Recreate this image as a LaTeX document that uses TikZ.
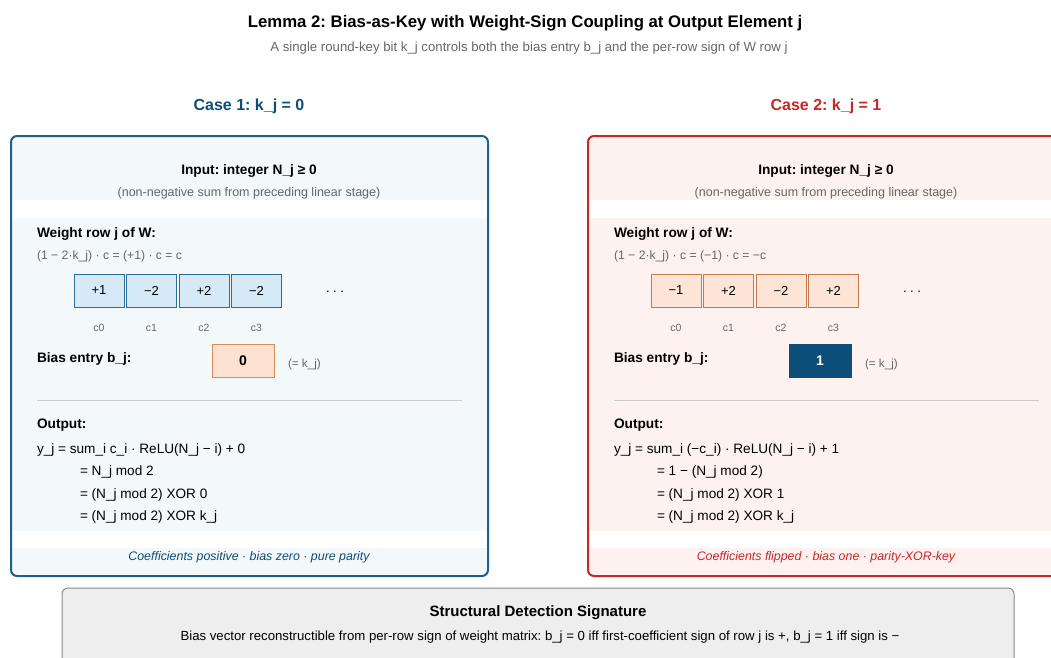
\documentclass[tikz,border=0pt]{standalone}
\usepackage{fontspec}
\setmainfont{Liberation Sans}
\frenchspacing
\definecolor{bluedk}{HTML}{0D4D7A}
\definecolor{lborder}{HTML}{1F5F8B}
\definecolor{lfill}{HTML}{F3F8FB}
\definecolor{lcell}{HTML}{D6E9F6}
\definecolor{lcellb}{HTML}{2E6B96}
\definecolor{redk}{HTML}{C62828}
\definecolor{rfill}{HTML}{FDF2F0}
\definecolor{rcell}{HTML}{FCE4D6}
\definecolor{rcellb}{HTML}{C8784A}
\definecolor{biasf}{HTML}{FDE2D3}
\definecolor{biasb}{HTML}{DE8A55}
\definecolor{greyt}{HTML}{666666}
\definecolor{sepl}{HTML}{CCCCCC}
\definecolor{botf}{HTML}{EEEEEE}
\definecolor{botb}{HTML}{8A8A8A}
\tikzset{
  txt/.style={inner sep=0, outer sep=0},
  titletext/.style={txt, font=\fontsize{16.75}{19}\selectfont\bfseries, anchor=base},
  subtitletext/.style={txt, font=\fontsize{13.2}{15}\selectfont, text=greyt, anchor=base},
  subtext/.style={txt, font=\fontsize{12.5}{14}\selectfont, text=greyt, anchor=base},
  casetext/.style={txt, font=\fontsize{16}{18}\selectfont\bfseries, anchor=base},
  hdr/.style={txt, font=\fontsize{13.7}{15}\selectfont\bfseries, anchor=base},
  hdrl/.style={txt, font=\fontsize{13.7}{15}\selectfont\bfseries, anchor=base west},
  formula/.style={txt, font=\fontsize{12.2}{14}\selectfont, text=greyt, anchor=base west},
  keynote/.style={txt, font=\fontsize{11.7}{14}\selectfont, text=greyt, anchor=base west},
  eqline/.style={txt, font=\fontsize{13.6}{15}\selectfont, anchor=base west},
  cell/.style={draw=#1, line width=1, minimum width=50, minimum height=33, inner sep=0, font=\fontsize{13}{15}\selectfont},
  biasbox/.style={line width=1, minimum width=62, minimum height=33, inner sep=0, font=\fontsize{14}{16}\selectfont\bfseries},
  clabel/.style={txt, font=\fontsize{10.5}{12}\selectfont, text=greyt, anchor=base},
  footer/.style={txt, font=\fontsize{12.4}{14}\selectfont\itshape, anchor=base},
  dots/.style={txt, font=\fontsize{13}{15}\selectfont},
  panelfill/.style={rounded corners=6},
  panelborder/.style={line width=2, rounded corners=6},
}
\begin{document}
\begin{tikzpicture}[x=1pt,y=-1pt]
\useasboundingbox (0,0) rectangle (1051,657);
\clip (0,0) rectangle (1051,657);

\node[titletext] (title) at (525,27.5) {Lemma 2: Bias-as-Key with Weight-Sign Coupling at Output Element j};
\node[subtitletext] (subtitle) at (529,51) {A single round-key bit k\_j controls both the bias entry b\_j and the per-row sign of W row j};

\node[casetext, text=bluedk] (case1) at (249,110.5) {Case 1: k\_j = 0};
\node[casetext, text=redk] (case2) at (826,110.5) {Case 2: k\_j = 1};

% ---------------- Left panel ----------------
\path[panelfill, fill=lfill] (11,136) rectangle (488,576);
\fill[white] (12,200) rectangle (487,218);
\fill[white] (12,531) rectangle (487,548);
\draw[panelborder, draw=lborder] (11,136) rectangle (488,576);

\node[hdr] (Lin) at (249,174) {Input: integer N\_j ≥ 0};
\node[subtext] (Linsub) at (249,196.5) {(non-negative sum from preceding linear stage)};
\node[hdrl] (Lw) at (37,237) {Weight row j of W:};
\node[formula] (Lf) at (37,259) {(1 − 2·k\_j) · c = (+1) · c = c};
\node[cell=lcellb, fill=lcell] (Lc0) at (99,290.5) {+1};
\node[cell=lcellb, fill=lcell] (Lc1) at (151.5,290.5) {−2};
\node[cell=lcellb, fill=lcell] (Lc2) at (204,290.5) {+2};
\node[cell=lcellb, fill=lcell] (Lc3) at (256.5,290.5) {−2};
\node[dots] (Ldots) at (335,292) {.\hspace{3.5pt}.\hspace{3.5pt}.};
\node[clabel] (Ll0) at (99,331.5) {c0};
\node[clabel] (Ll1) at (151.5,331.5) {c1};
\node[clabel] (Ll2) at (204,331.5) {c2};
\node[clabel] (Ll3) at (256.5,331.5) {c3};
\node[hdrl] (Lb) at (37,362) {Bias entry b\_j:};
\node[biasbox, draw=biasb, fill=biasf] (Lbias) at (243,360.5) {0};
\node[keynote] (Lbk) at (288,367) {(= k\_j)};
\draw[sepl, line width=1] (37,400) -- (462,400);
\node[hdrl] (Lout) at (37,428) {Output:};
\node[eqline] (Le1) at (37,453) {y\_j = sum\_i c\_i · ReLU(N\_j − i) + 0};
\node[eqline] (Le2) at (80,475) {= N\_j mod 2};
\node[eqline] (Le3) at (80,498) {= (N\_j mod 2) XOR 0};
\node[eqline] (Le4) at (80,520) {= (N\_j mod 2) XOR k\_j};
\node[footer, text=bluedk] (Lfoot) at (249,560.5) {Coefficients positive · bias zero · pure parity};

% ---------------- Right panel ----------------
\path[panelfill, fill=rfill] (588,136) rectangle (1065,576);
\fill[white] (589,200) rectangle (1064,218);
\fill[white] (589,531) rectangle (1064,548);
\draw[panelborder, draw=redk] (588,136) rectangle (1065,576);

\node[hdr] (Rin) at (826,174) {Input: integer N\_j ≥ 0};
\node[subtext] (Rinsub) at (826,196.5) {(non-negative sum from preceding linear stage)};
\node[hdrl] (Rw) at (614,237) {Weight row j of W:};
\node[formula] (Rf) at (614,259) {(1 − 2·k\_j) · c = (−1) · c = −c};
\node[cell=rcellb, fill=rcell] (Rc0) at (676,290.5) {−1};
\node[cell=rcellb, fill=rcell] (Rc1) at (728.5,290.5) {+2};
\node[cell=rcellb, fill=rcell] (Rc2) at (781,290.5) {−2};
\node[cell=rcellb, fill=rcell] (Rc3) at (833.5,290.5) {+2};
\node[dots] (Rdots) at (912,292) {.\hspace{3.5pt}.\hspace{3.5pt}.};
\node[clabel] (Rl0) at (676,331.5) {c0};
\node[clabel] (Rl1) at (728.5,331.5) {c1};
\node[clabel] (Rl2) at (781,331.5) {c2};
\node[clabel] (Rl3) at (833.5,331.5) {c3};
\node[hdrl] (Rb) at (614,362) {Bias entry b\_j:};
\node[biasbox, draw=bluedk, fill=bluedk, text=white] (Rbias) at (820,360.5) {1};
\node[keynote] (Rbk) at (865,367) {(= k\_j)};
\draw[sepl, line width=1] (614,400) -- (1039,400);
\node[hdrl] (Rout) at (614,428) {Output:};
\node[eqline] (Re1) at (614,453) {y\_j = sum\_i (−c\_i) · ReLU(N\_j − i) + 1};
\node[eqline] (Re2) at (657,475) {= 1 − (N\_j mod 2)};
\node[eqline] (Re3) at (657,498) {= (N\_j mod 2) XOR 1};
\node[eqline] (Re4) at (657,520) {= (N\_j mod 2) XOR k\_j};
\node[footer, text=redk] (Rfoot) at (826,560.5) {Coefficients flipped · bias one · parity-XOR-key};

% ---------------- Bottom box ----------------
\draw[draw=botb, fill=botf, line width=1, rounded corners=6] (62,588) rectangle (1014,680);
\node[txt, font=\fontsize{15}{17}\selectfont\bfseries, anchor=base] (btitle) at (538,616.5) {Structural Detection Signature};
\node[txt, font=\fontsize{13.2}{15}\selectfont, anchor=base] (btext) at (540,640.5) {Bias vector reconstructible from per-row sign of weight matrix: b\_j = 0 iff first-coefficient sign of row j is +, b\_j = 1 iff sign is −};
\end{tikzpicture}
\end{document}
